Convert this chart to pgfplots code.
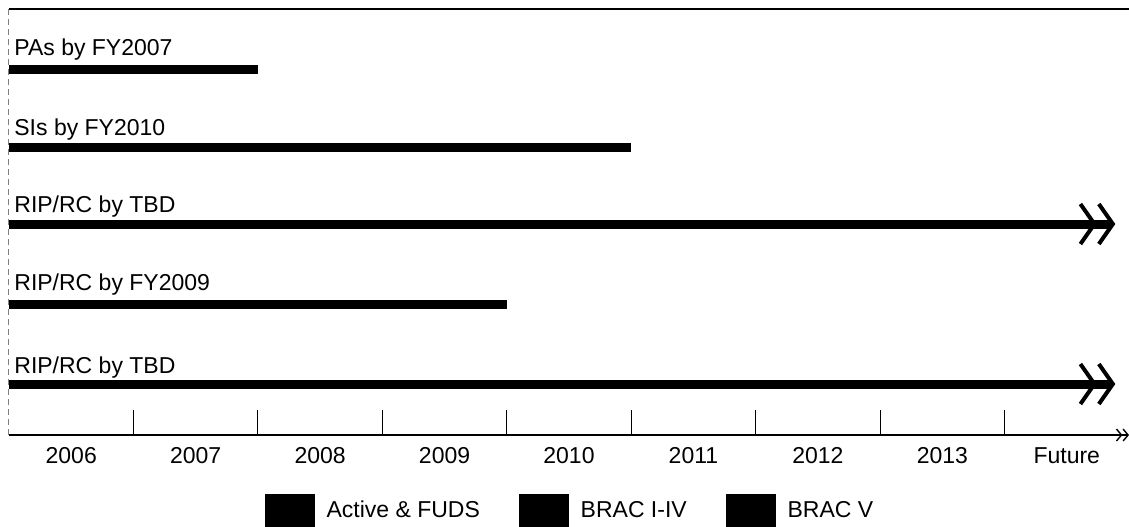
\documentclass[border=0pt]{standalone}
\usepackage{pgfplots}
\pgfplotsset{compat=1.18}
\usepackage{fontspec}
\setmainfont{Liberation Sans}
\usetikzlibrary{arrows.meta,calc}
\begin{document}
\begin{tikzpicture}
\tikzset{dbl/.style={-{Straight Barb[length=7pt,width=20pt,line width=2pt]Straight Barb[length=7pt,width=20pt,line width=2pt]}}}
\begin{axis}[
  name=ax, scale only axis, width=560pt, height=213pt,
  xmin=0, xmax=9, ymin=0, ymax=426,
  axis x line=bottom, axis y line*=left,
  x axis line style={black, line width=0.7pt, -{Straight Barb[length=2.5pt,width=6pt]Straight Barb[length=2.5pt,width=6pt]}},
  y axis line style={gray, densely dashed, line width=0.5pt},
  ytick=\empty,
  xtick={0.5,1.5,...,8.5},
  xticklabels={2006,2007,2008,2009,2010,2011,2012,2013,Future},
  major tick length=0pt,
  tick align=inside,
  xticklabel style={font=\fontsize{11.5}{13.8}\selectfont, inner sep=0pt, anchor=north, yshift=-6pt},
  extra x ticks={1,2,...,8},
  extra x tick labels={},
  extra x tick style={major tick length=12.5pt, tick style={black, line width=0.6pt}},
  clip=false,
  legend columns=3,
  legend style={at={(rel axis cs:0.5,-0.1385)}, anchor=north, draw=none, fill=none, inner sep=0pt,
    font=\fontsize{11.5}{13.8}\selectfont,
    nodes={inner sep=0pt, anchor=west},
    /tikz/every odd column/.append style={column sep=6pt},
    /tikz/every even column/.append style={column sep=19.5pt}},
  legend image code/.code={\fill[black] (0pt,-8pt) rectangle (24.5pt,8pt);},
]
\draw[black, line width=0.7pt] (rel axis cs:0,1) -- (rel axis cs:1,1);
% bars
\addplot[black, line width=4.5pt, forget plot] coordinates {(0,366) (2,366)};
\addplot[black, line width=4.5pt, forget plot] coordinates {(0,287.5) (5,287.5)};
\addplot[black, line width=4.5pt, dbl, forget plot] coordinates {(0,211) (8.89,211)};
\addplot[black, line width=4.5pt, forget plot] coordinates {(0,131) (4,131)};
\addplot[black, line width=4.5pt, dbl, forget plot] coordinates {(0,51) (8.89,51)};
% labels
\begin{scope}[every node/.style={anchor=base west, inner sep=0pt, xshift=2.5pt, font=\fontsize{11.5}{13.8}\selectfont}]
\node at (axis cs:0,380) {PAs by FY2007};
\node at (axis cs:0,300) {SIs by FY2010};
\node at (axis cs:0,223) {RIP/RC by TBD};
\node at (axis cs:0,145) {RIP/RC by FY2009};
\node at (axis cs:0,62) {RIP/RC by TBD};
\end{scope}
\addlegendimage{black}
\addlegendentry{Active \& FUDS}
\addlegendimage{black}
\addlegendentry{BRAC I-IV}
\addlegendimage{black}
\addlegendentry{BRAC V}
\end{axis}
\pgfresetboundingbox
\useasboundingbox ($(ax.south west)+(-4.5pt,-45.5pt)$) rectangle ($(ax.north east)+(0pt,4.5pt)$);
\end{tikzpicture}
\end{document}
